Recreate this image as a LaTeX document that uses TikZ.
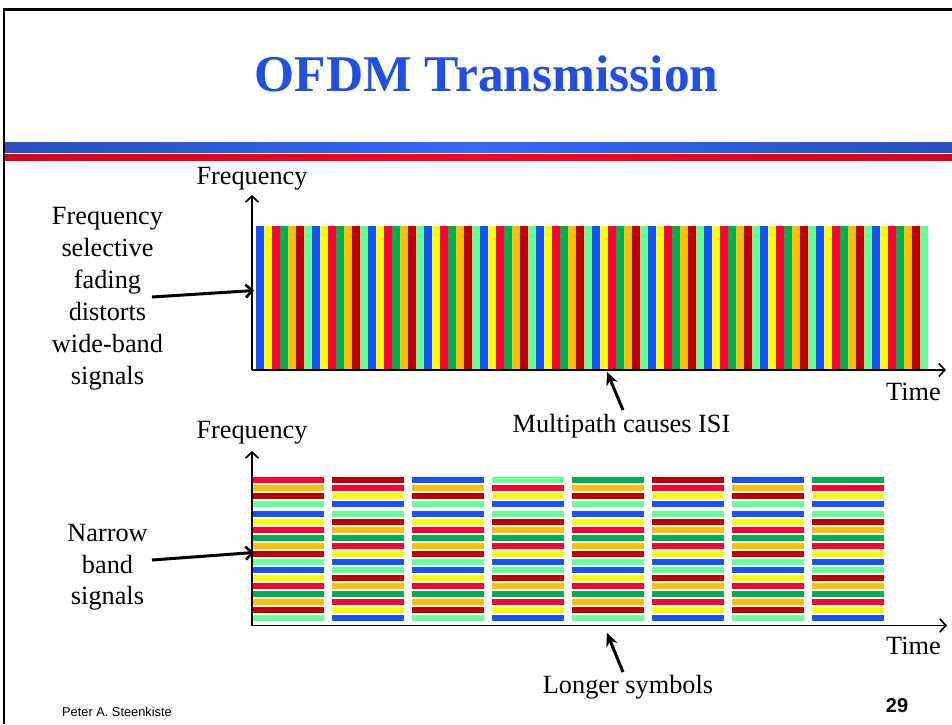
\documentclass[tikz,border=0pt]{standalone}
\usepackage{fontspec}
\setmainfont{Liberation Serif}
\newfontfamily\arialf{Liberation Sans}
\usetikzlibrary{arrows.meta}
\definecolor{cB}{RGB}{22,82,255}
\definecolor{cY}{RGB}{255,255,0}
\definecolor{cR}{RGB}{255,0,51}
\definecolor{cG}{RGB}{0,176,80}
\definecolor{cO}{RGB}{255,192,0}
\definecolor{cD}{RGB}{192,0,0}
\definecolor{cL}{RGB}{102,255,153}
\definecolor{titleblue}{RGB}{31,79,232}
\definecolor{bbdark}{RGB}{28,52,128}
\definecolor{bblight}{RGB}{52,106,248}
\definecolor{rbdark}{RGB}{176,0,32}
\definecolor{rblight}{RGB}{255,0,36}
\pgfdeclarehorizontalshading{bluebar}{100bp}{color(0bp)=(bbdark); color(50bp)=(bblight); color(100bp)=(bbdark)}
\pgfdeclarehorizontalshading{redbar}{100bp}{color(0bp)=(rbdark); color(50bp)=(rblight); color(100bp)=(rbdark)}
\newcommand\stripecol[1]{\ifcase#1 cB\or cY\or cR\or cG\or cO\or cD\or cL\fi}
\def\patA{485/cO,493/cD,501/cL,511/cB,519/cY,527/cR,535/cG,543/cO,551/cD,559/cL,567/cB,575/cY,583/cR,591/cG,599/cO,607/cD,615/cL}
\def\patB{485/cR,493/cY,501/cB,511/cL,519/cD,527/cO,535/cG,543/cR,551/cY,559/cB,567/cL,575/cD,583/cO,591/cG,599/cR,607/cY,615/cB}
\tikzset{
  lbl/.style={inner sep=0pt, font=\fontsize{26.3}{32}\selectfont},
  axisline/.style={line width=1.8pt, -{Straight Barb[length=6pt,width=13pt,line width=1.7pt]}},
  sidearrow/.style={line width=3pt, -{Straight Barb[length=6.5pt,width=13pt,line width=2.6pt]}},
  uparrow/.style={line width=3pt, -{Stealth[length=13pt,width=12pt]}},
}
\begin{document}
\begin{tikzpicture}[x=1pt,y=-1pt]
\useasboundingbox (0,0) rectangle (952,724);
\fill[white] (0,0) rectangle (952,724);
% frame
\draw[line width=2.2pt] (4,724) -- (4,9.5) -- (952,9.5);
% title
\node[inner sep=0pt, anchor=base, text=titleblue, font=\fontsize{51.5}{60}\selectfont\bfseries] (title) at (486.5,91) {OFDM Transmission};
% header bars
\shade[shading=bluebar] (5,142.7) rectangle (952,152);
\shade[shading=redbar] (5,154.7) rectangle (952,160);
% top stripes
\foreach \i in {0,...,83} {
  \pgfmathtruncatemacro\k{mod(\i,7)}
  \edef\cn{\stripecol{\k}}
  \fill[\cn] (256+8*\i,226) rectangle ++(8.3,143);
}
% bottom blocks
\foreach \b/\f/\p in {0/cR/A,1/cD/B,2/cB/A,3/cL/B,4/cG/A,5/cD/B,6/cB/A,7/cG/B} {
  \fill[\f] (252+80*\b,477) rectangle ++(71.5,6);
  \edef\curpat{\csname pat\p\endcsname}
  \foreach \yy/\cc in \curpat {
    \fill[\cc] (252+80*\b,\yy) rectangle ++(71.5,6);
  }
}
% axes top
\coordinate (o1) at (252,370);
\coordinate (y1) at (252,195);
\coordinate (x1) at (946,370);
\draw[axisline] (o1) -- (y1);
\draw[axisline] (o1) -- (x1);
% axes bottom
\coordinate (o2) at (252,625.5);
\coordinate (y2) at (252,451);
\coordinate (x2) at (947,625.5);
\draw[axisline] (o2) -- (y2);
\draw[axisline] (o2) -- (x2);
% axis labels
\node[lbl, anchor=base] (f1) at (252,184) {Frequency};
\node[lbl, anchor=base] (t1) at (913.5,400) {Time};
\node[lbl, anchor=base] (f2) at (252,438) {Frequency};
\node[lbl, anchor=base] (t2) at (913.5,654) {Time};
% left texts top
\node[lbl, anchor=base] (l1a) at (107.5,224) {Frequency};
\node[lbl, anchor=base] (l1b) at (107.5,256) {selective};
\node[lbl, anchor=base] (l1c) at (107.5,288) {fading};
\node[lbl, anchor=base] (l1d) at (107.5,320) {distorts};
\node[lbl, anchor=base] (l1e) at (107.5,352) {wide-band};
\node[lbl, anchor=base] (l1f) at (107.5,384) {signals};
% left texts bottom
\node[lbl, anchor=base] (l2a) at (107.5,541.5) {Narrow};
\node[lbl, anchor=base] (l2b) at (107.5,573) {band};
\node[lbl, anchor=base] (l2c) at (107.5,604.5) {signals};
% bottom notes
\node[lbl, anchor=base] (mp) at (621.5,432) {Multipath causes ISI};
\node[lbl, anchor=base] (ls) at (628,693) {Longer symbols};
% pointer arrows
\coordinate (a1s) at (152,297);
\coordinate (a1e) at (254,290.5);
\draw[sidearrow] (a1s) -- (a1e);
\coordinate (a2s) at (152,560);
\coordinate (a2e) at (254,552.5);
\draw[sidearrow] (a2s) -- (a2e);
\coordinate (mps) at (623,410);
\coordinate (mpe) at (607,372);
\draw[uparrow] (mps) -- (mpe);
\coordinate (lss) at (623,672);
\coordinate (lse) at (607,633);
\draw[uparrow] (lss) -- (lse);
% footer
\node[inner sep=0pt, anchor=base west, font=\arialf\fontsize{12.8}{14}\selectfont] (auth) at (62,716) {Peter A. Steenkiste};
\node[inner sep=0pt, anchor=base, font=\arialf\bfseries\fontsize{20}{24}\selectfont] (pg) at (897,712) {29};
\end{tikzpicture}
\end{document}
